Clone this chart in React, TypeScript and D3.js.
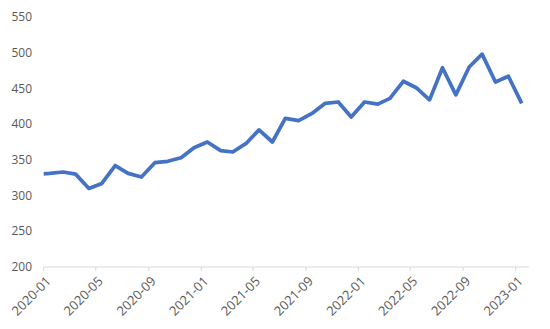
import React from "react";
import * as d3 from "d3";

// monthly observations (mid-month dates); the first one lies just before the axis start
const dates: string[] = [
  "2019-12-15",
  "2020-01-15","2020-02-15","2020-03-15","2020-04-15","2020-05-15","2020-06-15","2020-07-15","2020-08-15","2020-09-15","2020-10-15","2020-11-15","2020-12-15",
  "2021-01-15","2021-02-15","2021-03-15","2021-04-15","2021-05-15","2021-06-15","2021-07-15","2021-08-15","2021-09-15","2021-10-15","2021-11-15","2021-12-15",
  "2022-01-15","2022-02-15","2022-03-15","2022-04-15","2022-05-15","2022-06-15","2022-07-15","2022-08-15","2022-09-15","2022-10-15","2022-11-15","2022-12-15",
  "2023-01-15",
];
const values: number[] = [
  330,
  331, 333, 330, 310, 317, 342, 331, 326, 346, 348, 353, 367,
  375, 363, 361, 373, 392, 375, 408, 405, 415, 429, 431, 410,
  431, 428, 436, 460, 451, 434, 479, 441, 480, 498, 459, 467,
  429,
];
const tickLabels: string[] = ["2020-01","2020-05","2020-09","2021-01","2021-05","2021-09","2022-01","2022-05","2022-09","2023-01"];
const yTicks: number[] = [200, 250, 300, 350, 400, 450, 500, 550];

const parseDay = d3.timeParse("%Y-%m-%d");
const parseMonth = d3.timeParse("%Y-%m");

export default function App() {
  const W = 550, H = 329;
  const x0 = 43.7, x1 = 515.7, axisEnd = 529;
  const y = d3.scaleLinear().domain([200, 550]).range([267, 17]);
  const x = d3.scaleTime()
    .domain([parseMonth("2020-01") as Date, parseMonth("2023-01") as Date])
    .range([x0, x1]);
  const pts: [number, number][] = values.map((v, i) => [x(parseDay(dates[i]) as Date), y(v)]);
  const line = d3.line();
  const font = "'Open Sans', sans-serif";
  return (
    <svg width={W} height={H} style={{ position: "absolute", left: 0, top: 0, background: "#fff" }}>
      <defs>
        <clipPath id="plot">
          <rect x={x0} y={0} width={axisEnd - x0 + 10} height={H} />
        </clipPath>
      </defs>
      {yTicks.map((t) => (
        <text key={t} x={32} y={y(t)} dy="0.35em" textAnchor="end" fontFamily={font} fontSize={12} fill="#595959">{t}</text>
      ))}
      <line x1={x0} x2={axisEnd} y1={267} y2={267} stroke="#d9d9d9" strokeWidth={1} />
      {tickLabels.map((lab) => {
        const tx = x(parseMonth(lab) as Date);
        return (
          <g key={lab}>
            <line x1={tx} x2={tx} y1={267} y2={271} stroke="#d9d9d9" strokeWidth={1} />
            <text transform={`translate(${tx + 8},${282}) rotate(-45)`} textAnchor="end" fontFamily={font} fontSize={13} fill="#595959">{lab}</text>
          </g>
        );
      })}
      <path d={line(pts) || ""} fill="none" stroke="#4472C4" strokeWidth={3.75} strokeLinejoin="round" clipPath="url(#plot)" />
    </svg>
  );
}
